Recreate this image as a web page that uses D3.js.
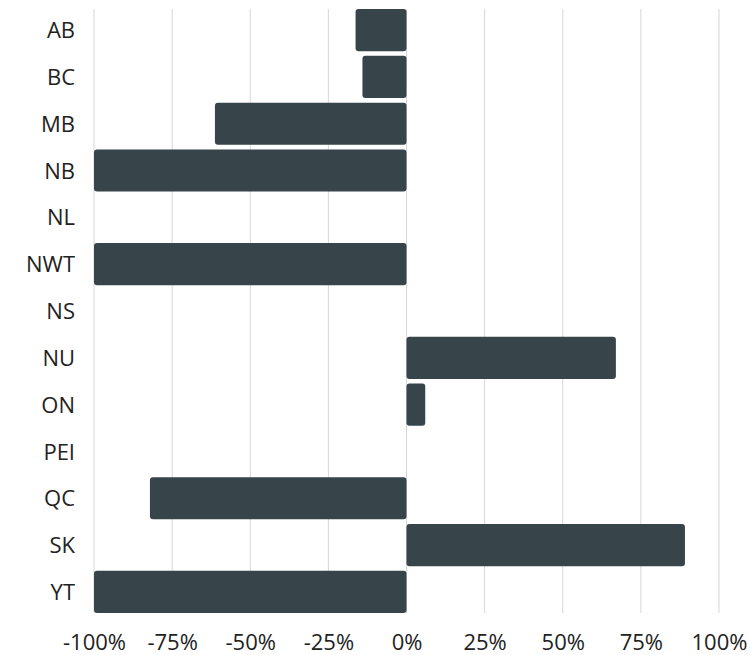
<!DOCTYPE html>
<html>
<head>
<meta charset="utf-8">
<script src="https://cdn.jsdelivr.net/npm/d3@7"></script>
<style>
  body { margin: 0; background: #fff; }
  text { font-family: "Open Sans", sans-serif; }
</style>
</head>
<body>
<svg id="chart"></svg>
<script>
// categories and values (percent change)
var provinces = ["AB", "BC", "MB", "NB", "NL", "NWT", "NS", "NU", "ON", "PEI", "QC", "SK", "YT"];
var changes = [-16.3, -14.1, -61.3, -100, 0, -100, 0, 67.0, 6.0, 0, -82.1, 89.1, -100];
var tickValues = [-100, -75, -50, -25, 0, 25, 50, 75, 100];

var width = 750, height = 655;
var margin = {top: 9, right: 31, bottom: 42, left: 94};

var svg = d3.select("#chart")
  .attr("width", width)
  .attr("height", height);

var x = d3.scaleLinear()
  .domain([-100, 100])
  .range([margin.left, width - margin.right]);

var y = d3.scaleBand()
  .domain(provinces)
  .range([margin.top, height - margin.bottom])
  .paddingInner(0.1)
  .paddingOuter(0);

// gridlines
svg.append("g")
  .selectAll("line")
  .data(tickValues)
  .enter()
  .append("line")
  .attr("x1", function(d) { return x(d); })
  .attr("x2", function(d) { return x(d); })
  .attr("y1", margin.top)
  .attr("y2", height - margin.bottom)
  .attr("stroke", "#d6d6d6")
  .attr("stroke-width", 1);

// bars
svg.append("g")
  .selectAll("rect")
  .data(provinces)
  .enter()
  .append("rect")
  .attr("x", function(d, i) { return Math.min(x(0), x(changes[i])); })
  .attr("width", function(d, i) { return Math.abs(x(changes[i]) - x(0)); })
  .attr("y", function(d) { return y(d); })
  .attr("height", y.bandwidth())
  .attr("rx", 3)
  .attr("fill", "#37444a");

// x axis labels
var xAxis = d3.axisBottom(x)
  .tickValues(tickValues)
  .tickFormat(function(d) { return d + "%"; })
  .tickSize(0)
  .tickPadding(21);

svg.append("g")
  .attr("transform", "translate(0," + (height - margin.bottom) + ")")
  .call(xAxis)
  .call(function(g) { g.select(".domain").remove(); })
  .selectAll("text")
  .attr("font-family", "Open Sans, sans-serif")
  .attr("font-size", 22)
  .attr("fill", "#222");

// y axis labels
var yAxis = d3.axisLeft(y)
  .tickSize(0)
  .tickPadding(19);

svg.append("g")
  .attr("transform", "translate(" + margin.left + ",1)")
  .call(yAxis)
  .call(function(g) { g.select(".domain").remove(); })
  .selectAll("text")
  .attr("font-family", "Open Sans, sans-serif")
  .attr("font-size", 22)
  .attr("fill", "#222");
</script>
</body>
</html>
